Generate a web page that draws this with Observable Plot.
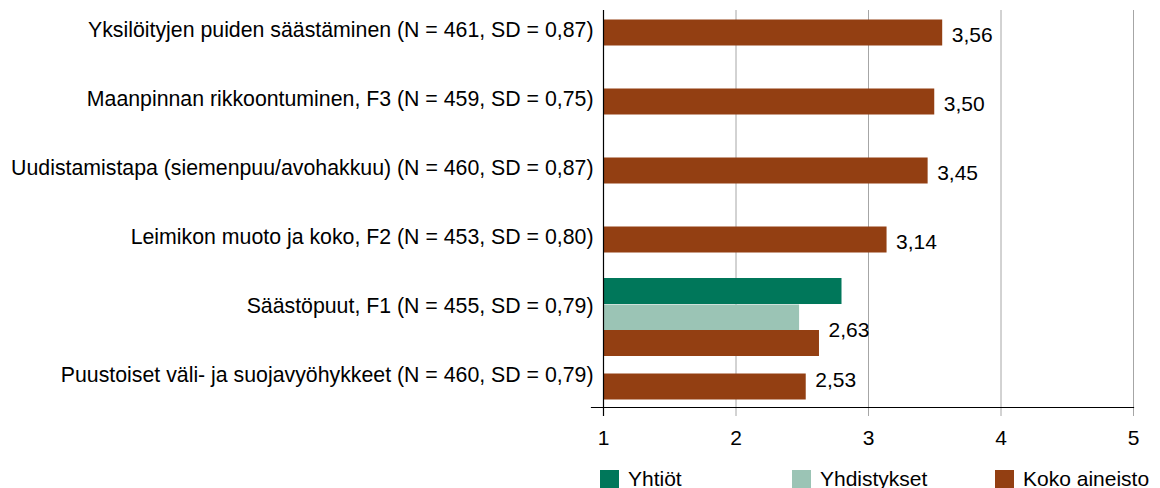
<!DOCTYPE html>
<html>
<head>
<meta charset="utf-8">
<script src="https://cdn.jsdelivr.net/npm/d3@7"></script>
<script src="https://cdn.jsdelivr.net/npm/@observablehq/plot@0.6"></script>
<style>
  html, body { margin: 0; padding: 0; background: #fff; }
  body { font-family: "Liberation Sans", Arial, sans-serif; width: 1160px; height: 488px; overflow: hidden; position: relative; }
  #chart { position: absolute; left: 0; top: 0; }
  .legend-item { position: absolute; top: 470px; display: flex; align-items: flex-start; font-size: 21px; color: #000; line-height: 1; }
  .legend-item .sw { width: 19px; height: 19px; margin-right: 9px; }
  .legend-item span.lbl { margin-top: -2px; }
</style>
</head>
<body>
<div id="chart"></div>
<div id="legend"></div>
<script>
// ---- data ----
const categories = [
  "Yksilöityjen puiden säästäminen (N = 461, SD = 0,87)",
  "Maanpinnan rikkoontuminen, F3 (N = 459, SD = 0,75)",
  "Uudistamistapa (siemenpuu/avohakkuu) (N = 460, SD = 0,87)",
  "Leimikon muoto ja koko, F2 (N = 453, SD = 0,80)",
  "Säästöpuut, F1 (N = 455, SD = 0,79)",
  "Puustoiset väli- ja suojavyöhykkeet (N = 460, SD = 0,79)"
];
const seriesNames = ["Yhtiöt", "Yhdistykset", "Koko aineisto"];
const yhtiotValues      = [null, null, null, null, 2.80, null];
const yhdistyksetValues = [null, null, null, null, 2.48, null];
const kokoValues        = [3.56, 3.50, 3.45, 3.14, 2.63, 2.53];
const kokoLabels        = ["3,56", "3,50", "3,45", "3,14", "2,63", "2,53"];
const xTicks = [1, 2, 3, 4, 5];
const seriesColors = ["#00775a", "#9bc4b5", "#933f12"];

// ---- table ----
const valuesBySeries = [yhtiotValues, yhdistyksetValues, kokoValues];
const rows = [];
categories.forEach((c, i) => {
  seriesNames.forEach((s, j) => {
    const v = valuesBySeries[j][i];
    if (v != null) rows.push({category: c, series: s, value: v, row: i, label: j === 2 ? kokoLabels[i] : null});
  });
});

// ---- layout (vertical offsets of bars within their row, px) ----
function barShift(d) {
  if (d.row === 4) return d.series === "Yhtiöt" ? -15 : d.series === "Yhdistykset" ? 11.5 : 37;
  if (d.row === 5) return 11.5;
  return 2.5;
}
function labelShift(d) {
  if (d.row === 4) return 24;
  return 4.5;
}

const font = "'Liberation Sans', Arial, sans-serif";
const marks = [
  Plot.ruleX(xTicks.slice(1), {stroke: "#a6a6a6", strokeWidth: 1, insetBottom: -9})
];
for (const [shift, group] of d3.groups(rows, barShift)) {
  marks.push(Plot.barX(group, {
    x1: () => xTicks[0], x2: "value", y: "category", fill: "series", dy: shift
  }));
}
const labelRows = rows.filter(d => d.label != null);
for (const [shift, group] of d3.groups(labelRows, labelShift)) {
  marks.push(Plot.text(group, {
    x: "value", y: "category", text: "label", dx: 9, dy: shift,
    textAnchor: "start", fontSize: 21, fill: "#000"
  }));
}
marks.push(
  Plot.ruleX([xTicks[0]], {stroke: "#000", strokeWidth: 1.2, insetBottom: -9}),
  Plot.frame({anchor: "bottom", stroke: "#000", strokeWidth: 1.2, insetLeft: -12}),
  Plot.axisY({tickSize: 0, tickPadding: 10, fontSize: 21.3, label: null, fill: "#000"}),
  Plot.axisX({ticks: xTicks, tickSize: 0, tickPadding: 23, fontSize: 21, label: null, tickFormat: d => String(d), fill: "#000"})
);

const chart = Plot.plot({
  width: 1160,
  height: 460,
  marginTop: 10,
  marginBottom: 53,
  marginLeft: 603,
  marginRight: 27,
  style: {fontFamily: font, fontSize: "21px", color: "#000", background: "transparent"},
  x: {domain: [xTicks[0], xTicks[xTicks.length - 1]]},
  y: {domain: categories, range: [-6.5, 410.5], paddingInner: 0.626, paddingOuter: 0.313, align: 0.5},
  color: {domain: seriesNames, range: seriesColors},
  marks
});
document.getElementById("chart").appendChild(chart);

// ---- legend ----
const legendLeft = [600, 792, 995];
const legend = document.getElementById("legend");
seriesNames.forEach((s, j) => {
  const item = document.createElement("div");
  item.className = "legend-item";
  item.style.left = legendLeft[j] + "px";
  const sw = document.createElement("div");
  sw.className = "sw";
  sw.style.background = seriesColors[j];
  const lbl = document.createElement("span");
  lbl.className = "lbl";
  lbl.textContent = s;
  item.appendChild(sw);
  item.appendChild(lbl);
  legend.appendChild(item);
});
</script>
</body>
</html>
